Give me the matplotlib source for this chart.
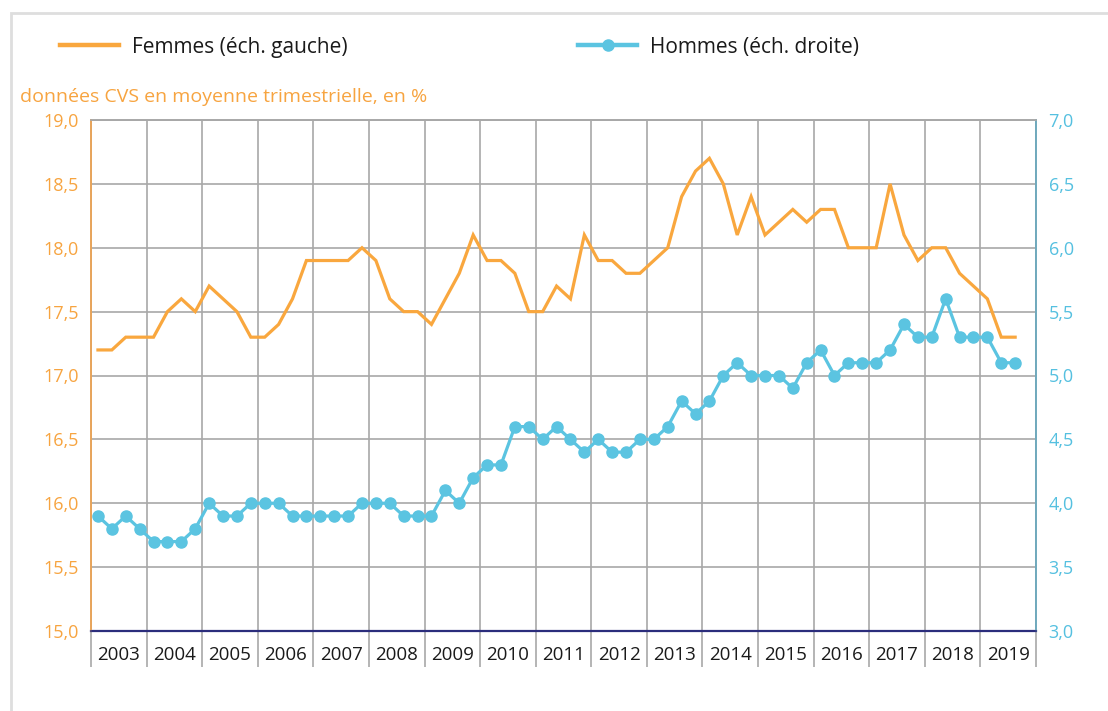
import matplotlib
matplotlib.use("Agg")
import matplotlib.pyplot as plt
import pandas as pd
from matplotlib.lines import Line2D
from matplotlib.patches import Rectangle
from matplotlib.ticker import FuncFormatter, MultipleLocator, FixedLocator

plt.rcParams["font.family"] = ["Open Sans", "DejaVu Sans"]

# quarterly series, 2003T1 -> 2019T3
periods = pd.period_range("2003Q1", "2019Q3", freq="Q")
femmes = [
    17.2, 17.2, 17.3, 17.3,
    17.3, 17.5, 17.6, 17.5,
    17.7, 17.6, 17.5, 17.3,
    17.3, 17.4, 17.6, 17.9,
    17.9, 17.9, 17.9, 18.0,
    17.9, 17.6, 17.5, 17.5,
    17.4, 17.6, 17.8, 18.1,
    17.9, 17.9, 17.8, 17.5,
    17.5, 17.7, 17.6, 18.1,
    17.9, 17.9, 17.8, 17.8,
    17.9, 18.0, 18.4, 18.6,
    18.7, 18.5, 18.1, 18.4,
    18.1, 18.2, 18.3, 18.2,
    18.3, 18.3, 18.0, 18.0,
    18.0, 18.5, 18.1, 17.9,
    18.0, 18.0, 17.8, 17.7,
    17.6, 17.3, 17.3,
]
hommes = [
    3.9, 3.8, 3.9, 3.8,
    3.7, 3.7, 3.7, 3.8,
    4.0, 3.9, 3.9, 4.0,
    4.0, 4.0, 3.9, 3.9,
    3.9, 3.9, 3.9, 4.0,
    4.0, 4.0, 3.9, 3.9,
    3.9, 4.1, 4.0, 4.2,
    4.3, 4.3, 4.6, 4.6,
    4.5, 4.6, 4.5, 4.4,
    4.5, 4.4, 4.4, 4.5,
    4.5, 4.6, 4.8, 4.7,
    4.8, 5.0, 5.1, 5.0,
    5.0, 5.0, 4.9, 5.1,
    5.2, 5.0, 5.1, 5.1,
    5.1, 5.2, 5.4, 5.3,
    5.3, 5.6, 5.3, 5.3,
    5.3, 5.1, 5.1,
]
years = list(range(2003, 2020))

ORANGE = "#F9A73E"
BLUE = "#5BC4E1"
TXT_OR = "#F7A440"
TXT_BL = "#55C0E0"
GRID = "#a8a8a8"

x = [p.year + (p.quarter - 0.5) / 4 for p in periods]

fig = plt.figure(figsize=(11.08, 7.11), dpi=100)
W, H = 1108, 711
ax = fig.add_axes([91 / W, 1 - 631 / H, (1036 - 91) / W, (631 - 120) / H])
ax2 = ax.twinx()

ax.plot(x, femmes, color=ORANGE, lw=2.3, zorder=3, solid_joinstyle="miter")
ax2.plot(x, hommes, color=BLUE, lw=2.3, marker="o", ms=8, zorder=3)

ax.set_xlim(years[0], years[-1] + 1)
ax.set_ylim(15, 19)
ax2.set_ylim(3, 7)

comma = FuncFormatter(lambda v, _: f"{v:.1f}".replace(".", ","))
ax.yaxis.set_major_locator(MultipleLocator(0.5))
ax2.yaxis.set_major_locator(MultipleLocator(0.5))
ax.yaxis.set_major_formatter(comma)
ax2.yaxis.set_major_formatter(comma)

ax.xaxis.set_major_locator(FixedLocator(years + [years[-1] + 1]))
ax.xaxis.set_minor_locator(FixedLocator([y + 0.5 for y in years]))
ax.xaxis.set_major_formatter(FuncFormatter(lambda v, _: ""))
ax.set_xticklabels([str(y) for y in years], minor=True)
ax.tick_params(axis="x", which="major", length=26, width=1.2, color=GRID, direction="out")
ax.tick_params(axis="x", which="minor", length=0, pad=11, labelsize=13.5, labelcolor="#1a1a1a")

ax.tick_params(axis="y", length=0, pad=9, labelsize=13, labelcolor=TXT_OR)
ax2.tick_params(axis="y", length=0, pad=9, labelsize=13, labelcolor=TXT_BL)

ax.grid(True, which="major", color=GRID, lw=1.2)
ax.set_axisbelow(True)

for a in (ax, ax2):
    for s in a.spines.values():
        s.set_linewidth(1.2)
    a.spines["left"].set_color("#E8A45A")
    a.spines["right"].set_color("#6FA9BD")
    a.spines["bottom"].set_color("#2B2D7C")
    a.spines["top"].set_color(GRID)
ax.spines["bottom"].set_linewidth(1.6)
ax.spines["bottom"].set_zorder(5)

# outer light frame
fig.patches.append(Rectangle((11 / W, -0.1), 1.2, 1 - 13 / H + 0.1, transform=fig.transFigure,
                             fill=False, edgecolor="#dedede", lw=2))

fig.text(20 / W, 1 - 97 / H, "données CVS en moyenne trimestrielle, en %", color=TXT_OR,
         fontsize=14, va="center", ha="left")

h1 = Line2D([], [], color=ORANGE, lw=3.2)
h2 = Line2D([], [], color=BLUE, lw=3.2, marker="o", ms=8)
for h, lab, xp in ((h1, "Femmes (éch. gauche)", 60), (h2, "Hommes (éch. droite)", 578)):
    fig.legend([h], [lab], loc="center left", bbox_to_anchor=(xp / W, 1 - 47 / H),
               frameon=False, fontsize=15, handlelength=2.85, handletextpad=0.6,
               borderpad=0, borderaxespad=0, numpoints=1, labelcolor="#1a1a1a")

fig.savefig("out.png", dpi=100)
